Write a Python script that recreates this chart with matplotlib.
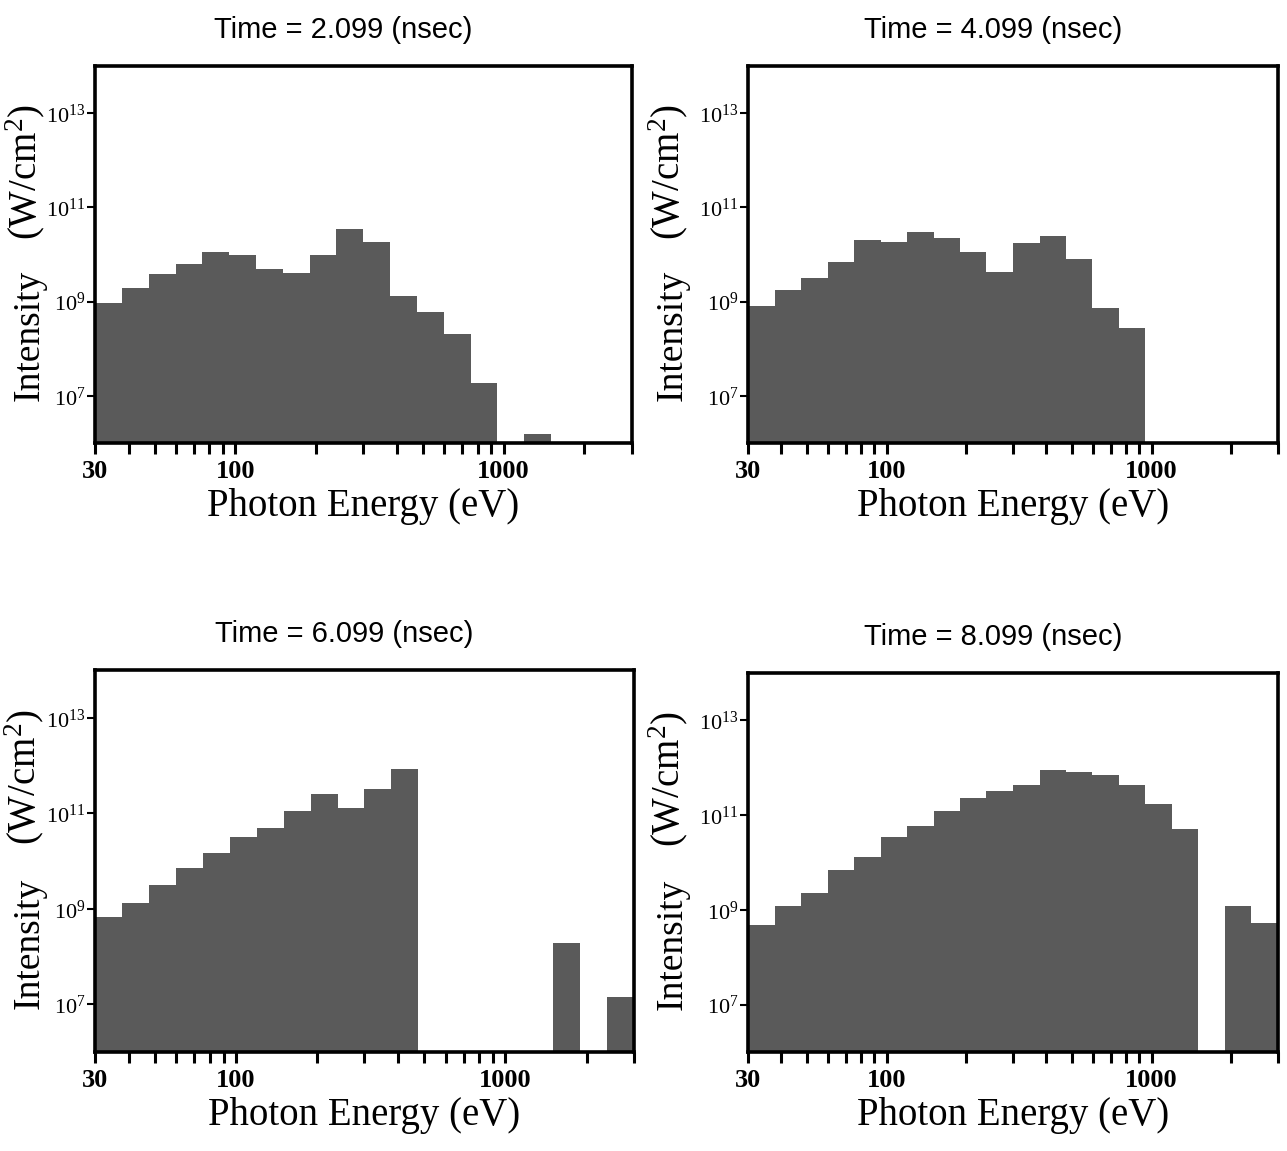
import matplotlib.pyplot as plt
import numpy as np
from matplotlib.ticker import FixedLocator, FixedFormatter, NullFormatter, NullLocator

plt.rcParams['mathtext.fontset'] = 'custom'
plt.rcParams['mathtext.rm'] = 'Liberation Serif'
plt.rcParams['mathtext.it'] = 'Liberation Serif:italic'
plt.rcParams['mathtext.bf'] = 'Liberation Serif:bold'

# photon energy bin edges (eV), 0.1 decade wide
edges = [30, 37.8, 47.5, 59.9, 75.4, 94.9, 119.5, 150.4, 189.3, 238.3, 300,
         377.7, 475.5, 598.6, 753.6, 948.7, 1194, 1503, 1893, 2383, 3000]

times = ["2.099", "4.099", "6.099", "8.099"]

# intensity (W/cm^2) per bin, 0 = empty
int_t2 = [9.5e8, 1.9e9, 3.8e9, 6.2e9, 1.15e10, 9.8e9, 4.9e9, 4.0e9, 9.8e9, 3.5e10,
          1.85e10, 1.3e9, 5.9e8, 2.1e8, 1.9e7, 0, 1.55e6, 0, 0, 0]
int_t4 = [8.1e8, 1.8e9, 3.2e9, 6.9e9, 2.0e10, 1.85e10, 2.95e10, 2.25e10, 1.15e10, 4.2e9,
          1.75e10, 2.5e10, 8.1e9, 7.2e8, 2.8e8, 0, 0, 0, 0, 0]
int_t6 = [6.6e8, 1.3e9, 3.2e9, 7.1e9, 1.5e10, 3.2e10, 4.8e10, 1.1e11, 2.5e11, 1.3e11,
          3.2e11, 8.3e11, 0, 0, 0, 0, 0, 1.9e8, 0, 1.45e7]
int_t8 = [4.8e8, 1.2e9, 2.3e9, 6.9e9, 1.3e10, 3.5e10, 5.8e10, 1.2e11, 2.3e11, 3.3e11,
          4.3e11, 9.1e11, 8.3e11, 7.1e11, 4.3e11, 1.7e11, 5.0e10, 0, 1.2e9, 5.4e8]

x_major = [30, 100, 1000]
x_minor = [40, 50, 60, 70, 80, 90, 200, 300, 400, 500, 600, 700, 800, 900, 2000, 3000]
y_major = [1e7, 1e9, 1e11, 1e13]
y_labels = [r"$10^{7}$", r"$10^{9}$", r"$10^{11}$", r"$10^{13}$"]

fig = plt.figure(figsize=(12.87, 11.51), dpi=100)
boxes = [[0.0738, 0.6151, 0.4170, 0.3276],
         [0.5812, 0.6151, 0.4118, 0.3276],
         [0.0738, 0.0860, 0.4188, 0.3319],
         [0.5812, 0.0860, 0.4118, 0.3293]]
label_x = [-0.09, -0.11, -0.09, -0.11]

edges = np.array(edges)
for box, lx, t, vals in zip(boxes, label_x, times, [int_t2, int_t4, int_t6, int_t8]):
    ax = fig.add_axes(box)
    ax.set_xscale("log")
    ax.set_yscale("log")
    ax.bar(edges[:-1], vals, width=np.diff(edges), align="edge",
           color="#5a5a5a", linewidth=0)
    ax.set_xlim(30, 3000)
    ax.set_ylim(1e6, 1e14)

    ax.xaxis.set_major_locator(FixedLocator(x_major))
    ax.xaxis.set_major_formatter(FixedFormatter(["30", "100", "1000"]))
    ax.xaxis.set_minor_locator(FixedLocator(x_minor))
    ax.xaxis.set_minor_formatter(NullFormatter())
    ax.yaxis.set_major_locator(FixedLocator(y_major))
    ax.yaxis.set_major_formatter(FixedFormatter(y_labels))
    ax.yaxis.set_minor_locator(NullLocator())

    ax.tick_params(axis="x", which="both", direction="out", length=8, width=2.2, pad=4)
    ax.tick_params(axis="y", which="both", direction="out", length=6, width=1.5, pad=1)
    for lab in ax.get_xticklabels():
        lab.set_fontfamily("Liberation Serif")
        lab.set_fontweight("bold")
        lab.set_fontsize(19)
    for lab in ax.get_yticklabels():
        lab.set_fontsize(16)
    for sp in ax.spines.values():
        sp.set_linewidth(2.6)

    ax.set_title(f"Time = {t} (nsec)", fontfamily="Liberation Sans", fontsize=21,
                 pad=20, x=0.462)
    ax.set_xlabel("Photon Energy (eV)", fontfamily="Liberation Serif", fontsize=28, labelpad=4)
    ax.set_ylabel("Intensity", fontfamily="Liberation Serif", fontsize=27)
    ax.yaxis.set_label_coords(lx, 0.285)
    ax.text(lx, 0.72, "(W/cm$^2$)", transform=ax.transAxes, rotation=90,
            rotation_mode="anchor", ha="center", va="bottom",
            fontfamily="Liberation Serif", fontsize=28)

fig.savefig("out.png", dpi=100)
